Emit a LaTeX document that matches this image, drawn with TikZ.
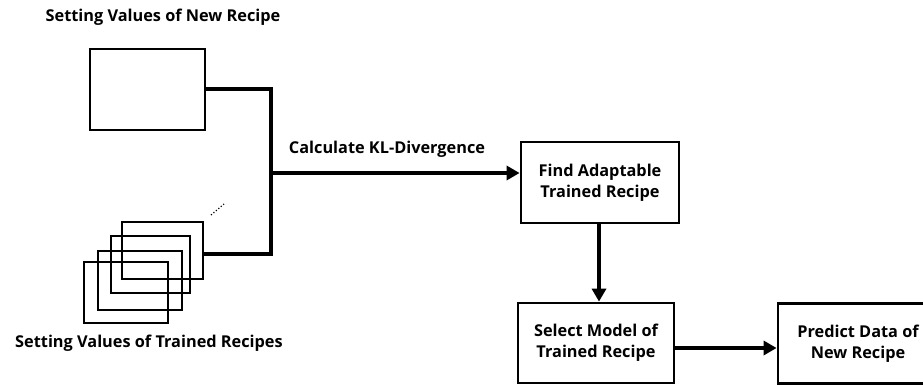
\documentclass[tikz,border=0pt]{standalone}
\usepackage{fontspec}
\setmainfont{Open Sans}
\usetikzlibrary{arrows.meta, positioning}

\begin{document}
\begin{tikzpicture}[x=1pt, y=-1pt,
  >={Triangle[length=13pt, width=14pt]},
  every node/.style={font=\bfseries\fontsize{16.3}{21}\selectfont, align=center},
  valuebox/.style={draw, line width=2.6pt, inner sep=0pt},
  stepbox/.style={draw, line width=2.8pt, minimum width=157pt, minimum height=80pt, inner sep=2pt},
  link/.style={line width=4pt}]
  \useasboundingbox (0,0) rectangle (923,385);
  % ===== Setting values =====
  \node at (163,17) (newlabel) {Setting Values of New Recipe};
  \node[valuebox, minimum width=115pt, minimum height=81pt] at (147.5,89.5) (newbox) {};
  \node[valuebox, minimum width=81pt, minimum height=57pt] at (162.5,250.5) (trained1) {};
  \node[valuebox, minimum width=79pt, minimum height=57pt] at (150.5,264.5) (trained2) {};
  \node[valuebox, minimum width=84pt, minimum height=59pt] at (140,280.5) (trained3) {};
  \node[valuebox, minimum width=84pt, minimum height=61pt] at (126,292.5) (trained4) {};
  \node at (149,343) (trainedlabel) {Setting Values of Trained Recipes};
  \draw[dotted, line width=1.2pt] (211,215) -- (224,204);
  % ===== KL-Divergence =====
  \coordinate (join) at (271,173);
  \draw[link, line cap=rect] (newbox.east) -| (join);
  \draw[link, line cap=rect] (trained1.east |- 0,254) -| (join);
  \node at (387,149) (kllabel) {Calculate KL-Divergence};
  % ===== Steps =====
  \node[stepbox, minimum width=158pt, minimum height=81pt] at (600,182.5) (find) {Find Adaptable\\Trained Recipe};
  \node[stepbox, minimum width=156pt] at (596,343) (select) {Select Model of\\Trained Recipe};
  \node[stepbox, minimum width=160pt] at (858,343.5) (predict) {Predict Data of\\New Recipe};
  \draw[link, ->] (join) -- (join -| find.west);
  \draw[link, ->] (find.south -| 599,0) -- (select.north -| 599,0);
  \draw[link, ->] ([yshift=-5pt]select.east) -- ([yshift=-5pt]select.east -| predict.west);
\end{tikzpicture}
\end{document}
